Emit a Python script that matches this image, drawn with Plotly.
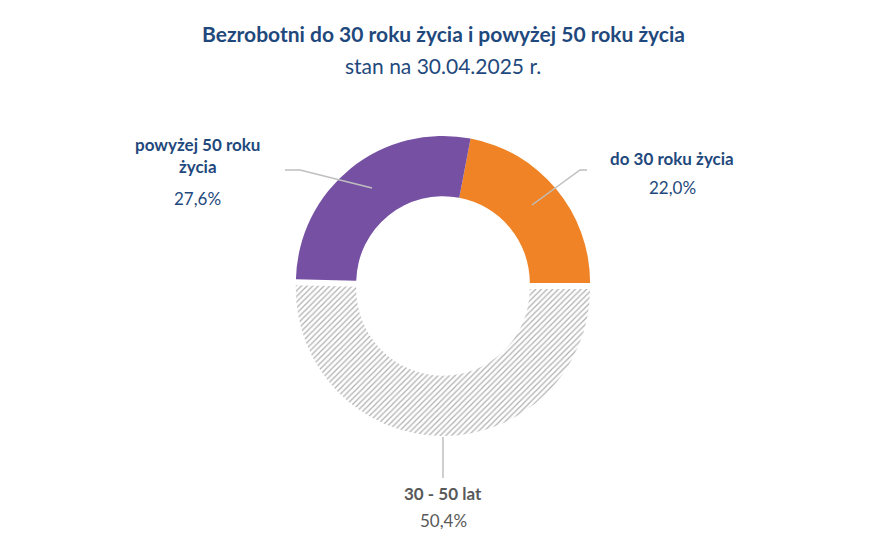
import plotly.graph_objects as go

W, H = 885, 537
OFF = 8
FW, FH = W - 2 * OFF, H - 2 * OFF
labels = ["do 30 roku życia", "30 - 50 lat", "powyżej 50 roku życia"]
values = [22.0, 50.4, 27.6]
value_text = ["22,0%", "50,4%", "27,6%"]

def px(x): return (x - OFF) / FW
def py(y): return 1 - (y - OFF) / FH

cx, cy, r = 443, 283, 153
fig = go.Figure(go.Pie(
    labels=labels, values=values, sort=False, direction="clockwise",
    rotation=10.8, hole=0.59, textinfo="none", hoverinfo="label+percent",
    pull=[0, 0.04, 0],
    marker=dict(colors=["#F08325", "#FFFFFF", "#7550A3"],
                line=dict(color="white", width=0),
                pattern=dict(shape=["", "/", ""], fgcolor="#B0B0B0",
                             bgcolor="white", size=4, solidity=0.3)),
    domain=dict(x=[px(cx - r), px(cx + r)], y=[py(cy + r), py(cy - r)]),
    showlegend=False,
))

navy = "#1F497D"
font = "Lato"
ann = [
    dict(x=px(443), y=py(33), text="<b>Bezrobotni do 30 roku życia i powyżej 50 roku życia</b>",
         font=dict(size=21, color=navy)),
    dict(x=px(443), y=py(66), text="stan na 30.04.2025 r.", font=dict(size=21, color=navy)),
    dict(x=px(197), y=py(155), text="<b>powyżej 50 roku<br>życia</b>", font=dict(size=17, color=navy)),
    dict(x=px(197), y=py(198), text="27,6%", font=dict(size=17, color=navy)),
    dict(x=px(672), y=py(158), text="<b>do 30 roku życia</b>", font=dict(size=17, color=navy)),
    dict(x=px(672), y=py(187), text="22,0%", font=dict(size=17, color=navy)),
    dict(x=px(443), y=py(493), text="<b>30 - 50 lat</b>", font=dict(size=17, color="#595959")),
    dict(x=px(443), y=py(520), text="50,4%", font=dict(size=17, color="#595959")),
]
for a in ann:
    a.update(xref="paper", yref="paper", showarrow=False, xanchor="center", yanchor="middle")
    a["font"]["family"] = font

lc = "#BFBFBF"
shapes = [
    dict(type="path", path=f"M {px(285)} {py(170)} L {px(300)} {py(170)} L {px(372)} {py(188)}"),
    dict(type="path", path=f"M {px(587)} {py(170)} L {px(580)} {py(170)} L {px(532)} {py(205)}"),
    dict(type="line", x0=px(443), y0=py(437), x1=px(443), y1=py(478)),
]
for s in shapes:
    s.update(xref="paper", yref="paper", line=dict(color=lc, width=1.5))

fig.update_layout(width=FW, height=FH, margin=dict(l=0, r=0, t=0, b=0),
                  paper_bgcolor="white", annotations=ann, shapes=shapes,
                  font=dict(family=font))
fig.write_html("out.html")
